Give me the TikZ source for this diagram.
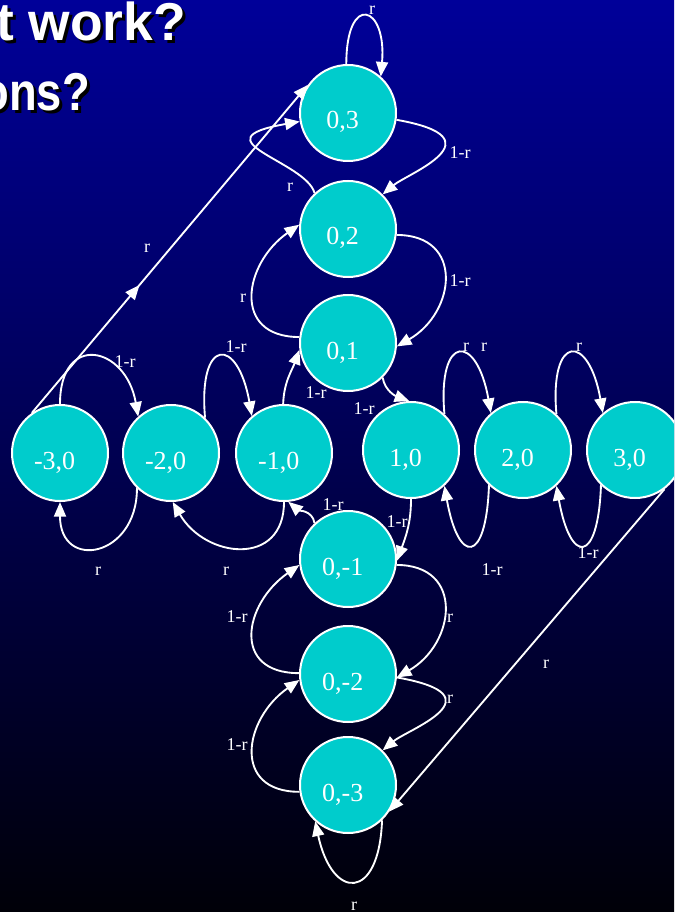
\documentclass[tikz,border=0pt]{standalone}
\usepackage{graphicx}
\usepackage{fontspec}
\setmainfont{Liberation Serif}
\newfontfamily\headfont{Liberation Sans}
\usetikzlibrary{arrows.meta,decorations.markings}
\definecolor{slideblue}{RGB}{0,0,153}
\definecolor{slidemid}{RGB}{0,0,130}
\definecolor{slidedark}{RGB}{0,0,8}
\definecolor{statefill}{RGB}{0,204,204}
% white heading text with a black drop shadow
\newcommand{\headshadow}[1]{\rlap{\raisebox{-2.25pt}{\kern2.25pt\color{black}#1}}#1}
\tikzset{
  state/.style={circle, draw=white, line width=1.5pt, fill=statefill, minimum size=72pt,
    inner sep=0pt, text=white, font=\fontsize{19.5}{20}\selectfont,
    text height=24pt, text depth=0pt, execute at end node={\kern8pt}},
  link/.style={draw=white, line width=1.4pt, -{Triangle[length=11pt,width=9pt]}},
  midtip/.style={postaction={decorate}, decoration={markings,
    mark=at position #1 with {\arrow[white]{Triangle[length=11pt,width=9pt]}}}},
  lbl/.style={text=white, font=\fontsize{13.5}{14}\selectfont, inner sep=0pt},
  head/.style={font=\headfont\bfseries\fontsize{40}{44}\selectfont, text=white,
    inner sep=0pt, anchor=base east},
}
\begin{document}
\begin{tikzpicture}[x=0.75pt,y=-0.75pt]
\useasboundingbox (0,0) rectangle (674,912);
\clip (0,0) rectangle (674,912);
\fill[top color=slideblue, middle color=slidemid, bottom color=slidedark] (0,0) rectangle (674,912);

% heading, cut off at the left edge
\node[head] (head1) at (186,41) {\headshadow{t work?}};
\node[head] (head2) at (90,111) {\headshadow{\scalebox{0.85}[1]{ons?}}};

% states
\node[state] (v3) at (348,113) {0,3};
\node[state] (v2) at (348,229) {0,2};
\node[state] (v1) at (348,343) {0,1};
\node[state] (hm3) at (60,453) {-3,0};
\node[state] (hm2) at (171,453) {-2,0};
\node[state] (hm1) at (284,453) {-1,0};
\node[state] (h1) at (411,450) {1,0};
\node[state] (h2) at (523,450) {2,0};
\node[state] (h3) at (635,450) {3,0};
\node[state] (vm1) at (348,559) {0,-1};
\node[state] (vm2) at (348,674) {0,-2};
\node[state] (vm3) at (348,785) {0,-3};

% vertical chain
\draw[link] (v3.92) to[out=90,in=85,distance=54pt] (v3.48);
\draw[link] (v3.-8) to[out=-10,in=40,out distance=80pt,in distance=24pt] (v2.45);
\draw[link] (v2.133) to[out=105,in=190,out distance=25pt,in distance=80pt] (v3.190);
\draw[link] (v2.-7) to[out=0,in=30,distance=51pt] (v1.-4);
\draw[link] (v1.173) to[out=180,in=215,distance=51pt] (v2.175);
\draw[link] (vm1.-7) to[out=0,in=30,distance=51pt] (vm2.-4);
\draw[link] (vm2.179) to[out=180,in=215,distance=51pt] (vm1.187);
\draw[link] (vm2.-4) to[out=-10,in=40,out distance=80pt,in distance=24pt] (vm3.45);
\draw[link] (vm3.188) to[out=180,in=215,distance=51pt] (vm2.187);
\draw[link] (vm3.-46) to[out=-92,in=-78,distance=61pt] (vm3.-132);

% horizontal chain
\draw[link] (hm3.90) to[out=90,in=100,distance=54pt] (hm2.132);
\draw[link] (hm2.226) to[out=270,in=270,distance=52pt] (hm3.270);
\draw[link] (hm2.46) to[out=95,in=100,distance=61pt] (hm1.131);
\draw[link] (hm1.270) to[out=270,in=300,distance=49pt] (hm2.272);
\draw[link] (h1.47) to[out=95,in=100,distance=61pt] (h2.131);
\draw[link] (h2.226) to[out=268,in=280,distance=60pt] (h1.313);
\draw[link] (h2.47) to[out=95,in=100,distance=61pt] (h3.131);
\draw[link] (h3.226) to[out=268,in=280,distance=60pt] (h2.313);

% links between the chains
\draw[link] (hm1.91) to[out=88,in=250] (v1.188);
\draw[link] (vm1.133) to[out=100,in=-40] (hm1.-85);
\draw[link] (v1.-45) to[out=-80,in=160] (h1.92);
\draw[link] (h1.270) to[out=270,in=70] (vm1.-2);
\draw[link, midtip=0.39] (hm3.125) -- (v3.145);
\draw[link] (h3.-53) -- (vm3.-33);

% edge labels
\node[lbl] (l1) at (372,10) {r};
\node[lbl] (l2) at (460,153) {1-r};
\node[lbl] (l3) at (290,187) {r};
\node[lbl] (l4) at (460,281) {1-r};
\node[lbl] (l5) at (243,298) {r};
\node[lbl] (l6) at (147,248) {r};
\node[lbl] (l7) at (125,362) {1-r};
\node[lbl] (l8) at (236,347) {1-r};
\node[lbl] (l9) at (466,347) {r};
\node[lbl] (l10) at (484,347) {r};
\node[lbl] (l11) at (579,347) {r};
\node[lbl] (l12) at (316,393) {1-r};
\node[lbl] (l13) at (364,409) {1-r};
\node[lbl] (l14) at (333,505) {1-r};
\node[lbl] (l15) at (397,522) {1-r};
\node[lbl] (l16) at (98,571) {r};
\node[lbl] (l17) at (226,571) {r};
\node[lbl] (l18) at (492,570) {1-r};
\node[lbl] (l19) at (588,553) {1-r};
\node[lbl] (l20) at (237,617) {1-r};
\node[lbl] (l21) at (450,618) {r};
\node[lbl] (l22) at (450,699) {r};
\node[lbl] (l23) at (237,745) {1-r};
\node[lbl] (l24) at (546,664) {r};
\node[lbl] (l25) at (354,906) {r};
\end{tikzpicture}
\end{document}
